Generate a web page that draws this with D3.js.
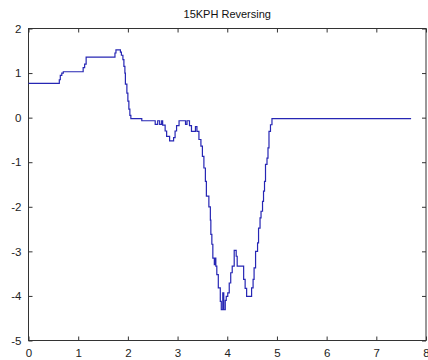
<!DOCTYPE html>
<html>
<head>
<meta charset="utf-8">
<script src="https://cdn.jsdelivr.net/npm/d3@7"></script>
<style>
  body { margin: 0; background: #fff; }
  svg { display: block; }
  text { font-family: "Liberation Sans", Arial, sans-serif; }
</style>
</head>
<body>
<svg></svg>
<script>
const width = 428;
const height = 360;
const title = "15KPH Reversing";

// time (s) and value (step-after samples)
const timeS = [
  0.00, 0.62, 0.64, 0.67, 0.70, 1.10, 1.13, 1.16, 1.74, 1.76,
  1.85, 1.87, 1.90, 1.92, 1.94, 1.95, 1.98, 2.00, 2.02, 2.04,
  2.06, 2.28, 2.55, 2.60, 2.64, 2.68, 2.70, 2.75, 2.78, 2.84,
  2.92, 2.95, 2.98, 3.03, 3.16, 3.19, 3.24, 3.28, 3.36, 3.39,
  3.43, 3.47, 3.50, 3.53, 3.56, 3.58, 3.63, 3.66, 3.67, 3.69,
  3.71, 3.74, 3.75, 3.77, 3.79, 3.82, 3.86, 3.88, 3.91, 3.93,
  3.96, 3.98, 4.01, 4.04, 4.07, 4.10, 4.14, 4.18, 4.20, 4.33,
  4.36, 4.39, 4.49, 4.52, 4.54, 4.57, 4.61, 4.63, 4.66, 4.68,
  4.71, 4.73, 4.75, 4.77, 4.80, 4.82, 4.84, 4.87, 4.90, 7.70
];
const values = [
  0.77, 0.85, 0.95, 1.00, 1.03, 1.12, 1.20, 1.36, 1.45, 1.52,
  1.47, 1.40, 1.30, 1.15, 1.00, 0.75, 0.55, 0.37, 0.19, 0.05,
  -0.02, -0.07, -0.15, -0.07, -0.15, -0.07, -0.17, -0.30, -0.42, -0.52,
  -0.45, -0.30, -0.18, -0.07, -0.15, -0.07, -0.18, -0.31, -0.20, -0.31,
  -0.49, -0.64, -0.87, -1.13, -1.43, -1.76, -2.00, -2.30, -2.62, -2.84,
  -3.15, -3.30, -3.15, -3.33, -3.52, -3.82, -4.12, -4.31, -3.93, -4.31,
  -4.10, -4.01, -3.93, -3.71, -3.48, -3.33, -2.98, -3.11, -3.33, -3.63,
  -3.83, -4.01, -3.82, -3.63, -3.37, -3.00, -2.81, -2.48, -2.25, -2.10,
  -1.88, -1.65, -1.43, -1.05, -0.91, -0.68, -0.31, -0.16, -0.02, -0.02
];

const xTicks = [0, 1, 2, 3, 4, 5, 6, 7, 8];
const yTicks = [-5, -4, -3, -2, -1, 0, 1, 2];

const plotLeft = 28.5, plotRight = 426, plotTop = 28.5, plotBottom = 340.5;

const svg = d3.select("svg").attr("width", width).attr("height", height);

const x = d3.scaleLinear().domain([0, 8]).range([plotLeft, plotRight]);
const y = d3.scaleLinear().domain([-5, 2]).range([plotBottom, plotTop]);

// box
svg.append("rect")
  .attr("x", plotLeft).attr("y", plotTop)
  .attr("width", plotRight - plotLeft).attr("height", plotBottom - plotTop)
  .attr("fill", "none").attr("stroke", "#333").attr("stroke-width", 1);

const tickLen = 4;
// plain hyphen for negatives, like the original
const fmt = d => String(d);

// bottom axis (ticks point inward)
svg.append("g")
  .attr("transform", `translate(0,${plotBottom})`)
  .call(d3.axisBottom(x).tickValues(xTicks).tickSizeInner(-tickLen).tickSizeOuter(0).tickPadding(8).tickFormat(fmt))
  .call(g => g.select(".domain").remove());

// top axis, ticks only
svg.append("g")
  .attr("transform", `translate(0,${plotTop})`)
  .call(d3.axisTop(x).tickValues(xTicks).tickSizeInner(-tickLen).tickSizeOuter(0).tickFormat(""))
  .call(g => g.select(".domain").remove());

// left axis
svg.append("g")
  .attr("transform", `translate(${plotLeft},0)`)
  .call(d3.axisLeft(y).tickValues(yTicks).tickSizeInner(-tickLen).tickSizeOuter(0).tickPadding(7).tickFormat(fmt))
  .call(g => g.select(".domain").remove());

// right axis, ticks only
svg.append("g")
  .attr("transform", `translate(${plotRight},0)`)
  .call(d3.axisRight(y).tickValues(yTicks).tickSizeInner(-tickLen).tickSizeOuter(0).tickFormat(""))
  .call(g => g.select(".domain").remove());

svg.selectAll(".tick line").attr("stroke", "#333");
svg.selectAll(".tick text")
  .attr("fill", "#222")
  .style("font-size", "11.5px")
  .style("font-family", "'Liberation Sans', Arial, sans-serif");

// data line
const pts = timeS.map((t, i) => [t, values[i]]);
const line = d3.line()
  .x(d => x(d[0]))
  .y(d => y(d[1]))
  .curve(d3.curveStepAfter);

svg.append("path")
  .datum(pts)
  .attr("d", line)
  .attr("fill", "none")
  .attr("stroke", "#2626b4")
  .attr("stroke-width", 1.2);

// title
svg.append("text")
  .attr("x", (plotLeft + plotRight) / 2)
  .attr("y", 18)
  .attr("text-anchor", "middle")
  .attr("fill", "#111")
  .style("font-size", "11px")
  .text(title);
</script>
</body>
</html>
